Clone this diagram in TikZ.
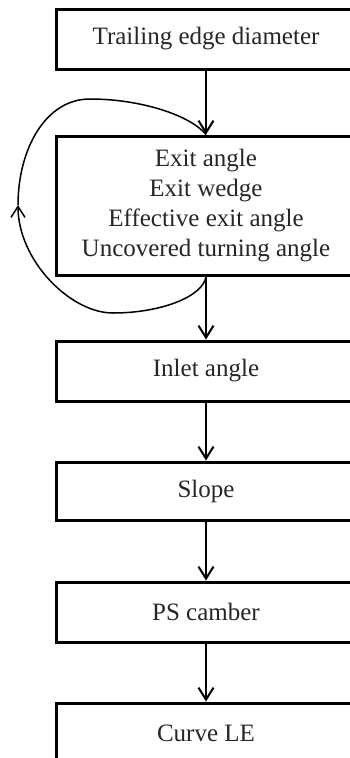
\documentclass[tikz,border=0pt]{standalone}
\usepackage{fontspec}
\setmainfont{Liberation Serif}
\usetikzlibrary{arrows.meta}
\tikzset{
  stepbox/.style={draw=black, line width=3pt, minimum width=300pt, inner sep=0pt,
    align=center, font=\fontsize{25}{30}\selectfont, text=black!85},
  flow/.style={draw=black, line width=2pt, -{Straight Barb[length=12pt,width=15pt]}},
  loopline/.style={draw=black, line width=1.5pt},
}
\begin{document}
\begin{tikzpicture}[x=1pt,y=-1pt]
\useasboundingbox (0,0) rectangle (350,758);
\clip (0,0) rectangle (350,758);
\node[stepbox, minimum height=60pt] (a) at (206,39) {Trailing edge diameter};
\node[stepbox, minimum height=139pt] (b) at (206,205.5) {Exit angle\\Exit wedge\\Effective exit angle\\Uncovered turning angle};
\node[stepbox, minimum height=60pt] (c) at (206,371) {Inlet angle};
\node[stepbox, minimum height=58pt] (d) at (206,491) {Slope};
\node[stepbox, minimum height=60pt] (e) at (206,612) {PS camber};
\node[stepbox, minimum height=60pt] (f) at (206,733) {Curve LE};
\draw[flow] (a.south) -- (b.north);
\draw[flow] (b.south) -- (c.north);
\draw[flow] (c.south) -- (d.north);
\draw[flow] (d.south) -- (e.north);
\draw[flow] (e.south) -- (f.north);
\coordinate (lb) at (113,313);
\coordinate (ll) at (18,205);
\coordinate (lt) at (90,99);
\draw[loopline, -{Straight Barb[length=11pt,width=14pt]}] (b.south) .. controls (203,297) and (160,313) .. (lb)
  .. controls (70,313) and (18,260) .. (ll);
\draw[loopline] (ll) .. controls (18,150) and (45,99) .. (lt)
  .. controls (140,99) and (190,115) .. (b.north);
\end{tikzpicture}
\end{document}
